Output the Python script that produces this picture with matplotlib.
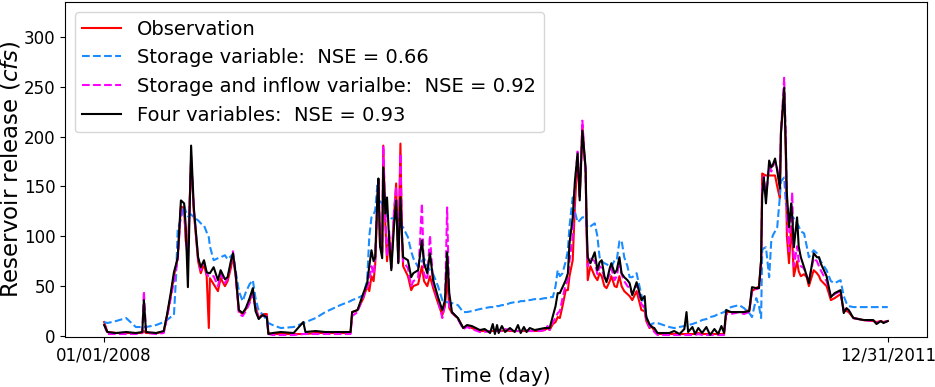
import matplotlib
matplotlib.use('Agg')
import matplotlib.pyplot as plt

# Day index (0 = 01/01/2008, 1460 = 12/31/2011) (cfs)
days = [0, 6, 22, 41, 59, 71, 74, 78, 97, 111, 117, 124, 130, 134, 137, 143, 149, 152, 156, 162,
        167, 175, 180, 186, 191, 195, 197, 204, 212, 217, 225, 230, 236, 240, 245, 251, 258, 264, 271, 277,
        282, 288, 295, 303, 306, 314, 329, 353, 371, 375, 394, 412, 440, 459, 462, 472, 483, 490, 494, 498,
        502, 505, 509, 511, 514, 518, 520, 524, 527, 531, 535, 540, 544, 548, 552, 555, 557, 566, 572, 576,
        585, 592, 596, 602, 607, 613, 622, 630, 635, 639, 643, 648, 659, 669, 676, 685, 700, 709, 719, 724,
        728, 732, 735, 741, 747, 756, 765, 771, 776, 782, 787, 793, 802, 812, 821, 826, 830, 836, 841, 845,
        849, 854, 860, 864, 867, 873, 877, 882, 886, 891, 897, 899, 901, 906, 914, 919, 923, 927, 932, 936,
        942, 945, 951, 955, 960, 964, 969, 975, 979, 984, 992, 1001, 1007, 1010, 1016, 1020, 1025, 1031, 1053, 1062,
        1072, 1081, 1085, 1088, 1096, 1101, 1107, 1114, 1122, 1129, 1137, 1144, 1150, 1155, 1159, 1168, 1183, 1192, 1202, 1207,
        1215, 1220, 1224, 1226, 1229, 1233, 1239, 1243, 1246, 1250, 1254, 1259, 1261, 1267, 1270, 1272, 1276, 1280, 1282, 1285,
        1291, 1294, 1298, 1304, 1309, 1313, 1322, 1328, 1332, 1335, 1346, 1354, 1361, 1372, 1378, 1383, 1387, 1396, 1415, 1433,
        1439, 1447, 1452, 1460]

observation = [14, 4, 3, 3, 3, 3, 5, 3, 3, 4, 20, 40, 60, 70, 78, 130, 128, 95, 86, 176,
               125, 75, 63, 72, 60, 8, 58, 52, 45, 58, 50, 55, 68, 80, 60, 25, 22, 27, 35, 45,
               30, 18, 22, 22, 3, 2, 2, 2, 2, 2, 3, 3, 3, 3, 24, 26, 38, 50, 45, 60,
               55, 72, 130, 150, 90, 85, 191, 110, 75, 100, 70, 120, 153, 75, 193, 95, 70, 60, 46, 50,
               52, 70, 55, 50, 60, 48, 33, 21, 30, 60, 28, 23, 18, 8, 10, 8, 5, 5, 5, 5,
               5, 5, 5, 5, 6, 5, 5, 5, 5, 5, 5, 5, 5, 5, 6, 8, 6, 12, 14, 19,
               18, 30, 46, 46, 60, 76, 130, 180, 140, 211, 165, 100, 56, 70, 60, 56, 63, 60, 50, 48,
               55, 60, 50, 49, 60, 50, 45, 42, 40, 36, 45, 26, 25, 15, 8, 10, 5, 2, 2, 2,
               2, 2, 2, 2, 2, 2, 3, 2, 2, 2, 2, 2, 2, 2, 24, 24, 24, 24, 26, 45,
               48, 50, 76, 163, 162, 161, 161, 161, 161, 161, 150, 138, 206, 246, 180, 100, 73, 110, 95, 60,
               75, 65, 60, 62, 59, 50, 66, 63, 60, 56, 50, 36, 38, 42, 26, 25, 24, 18, 16, 15,
               14, 15, 14, 15]

storage = [14, 13, 15, 18, 9, 9, 9, 9, 11, 14, 16, 19, 21, 60, 106, 118, 131, 125, 120, 122,
           119, 116, 113, 111, 104, 99, 90, 76, 78, 79, 81, 77, 80, 82, 65, 45, 35, 44, 52, 56,
           38, 25, 22, 16, 13, 11, 8, 9, 13, 14, 18, 24, 31, 35, 36, 38, 41, 56, 100, 119,
           122, 126, 151, 140, 135, 133, 130, 125, 120, 120, 118, 118, 118, 117, 115, 110, 109, 99, 85, 78,
           69, 75, 78, 70, 66, 62, 50, 36, 34, 34, 33, 33, 31, 24, 24, 25, 27, 28, 29, 29,
           29, 30, 30, 31, 31, 33, 34, 34, 35, 35, 36, 36, 37, 37, 38, 38, 39, 39, 50, 66,
           60, 63, 75, 86, 110, 139, 125, 114, 116, 119, 119, 112, 109, 110, 113, 100, 79, 75, 73, 72,
           70, 69, 76, 76, 95, 96, 79, 70, 59, 59, 63, 41, 29, 20, 9, 12, 13, 13, 9, 8,
           9, 10, 11, 11, 12, 13, 14, 16, 17, 19, 20, 22, 23, 24, 26, 29, 31, 28, 23, 19,
           38, 30, 18, 86, 88, 89, 59, 96, 101, 105, 109, 140, 155, 159, 133, 130, 125, 123, 120, 118,
           113, 110, 105, 103, 90, 79, 86, 83, 78, 75, 66, 55, 53, 56, 40, 33, 30, 29, 29, 29,
           29, 29, 29, 29]

storage_inflow = [12, 2, 2, 2, 2, 3, 45, 3, 2, 3, 18, 38, 55, 68, 75, 128, 126, 100, 75, 180,
                  127, 78, 66, 74, 62, 60, 60, 60, 50, 62, 53, 58, 72, 85, 62, 22, 20, 25, 33, 42,
                  28, 18, 20, 20, 2, 1, 1, 1, 2, 2, 2, 2, 2, 2, 20, 24, 40, 48, 55, 70,
                  62, 78, 135, 155, 95, 82, 191, 118, 80, 105, 68, 125, 150, 72, 183, 100, 75, 68, 50, 55,
                  58, 133, 62, 56, 101, 52, 36, 18, 32, 129, 30, 24, 17, 7, 9, 7, 4, 4, 5, 5,
                  6, 5, 6, 5, 7, 6, 5, 5, 5, 5, 6, 5, 5, 5, 6, 10, 6, 14, 18, 23,
                  25, 38, 52, 55, 75, 100, 150, 185, 140, 216, 160, 105, 70, 78, 75, 62, 70, 68, 58, 55,
                  62, 68, 56, 60, 75, 62, 55, 50, 48, 42, 52, 32, 28, 16, 9, 9, 4, 1, 1, 1,
                  1, 1, 1, 1, 1, 1, 2, 1, 1, 1, 1, 1, 1, 1, 22, 22, 24, 22, 24, 46,
                  47, 48, 70, 150, 160, 140, 170, 165, 170, 175, 168, 150, 205, 259, 200, 120, 85, 125, 144, 70,
                  90, 75, 70, 68, 60, 55, 78, 75, 70, 66, 55, 39, 42, 45, 24, 27, 26, 18, 16, 15,
                  13, 15, 14, 15]

four_variables = [11, 4, 3, 4, 3, 4, 36, 4, 3, 5, 21, 43, 64, 72, 79, 136, 133, 110, 49, 191,
                  129, 79, 69, 76, 64, 63, 63, 69, 56, 66, 57, 59, 75, 83, 63, 26, 23, 28, 38, 48,
                  25, 17, 21, 19, 2, 3, 4, 3, 14, 4, 5, 4, 4, 4, 24, 26, 43, 53, 70, 86,
                  75, 79, 140, 158, 90, 78, 169, 123, 139, 96, 66, 110, 136, 73, 139, 100, 79, 76, 59, 63,
                  66, 96, 73, 63, 83, 56, 39, 26, 36, 84, 43, 24, 18, 8, 11, 10, 6, 7, 3, 12,
                  2, 11, 3, 10, 4, 8, 4, 11, 3, 9, 4, 8, 6, 7, 8, 8, 8, 20, 30, 43,
                  43, 49, 56, 63, 93, 119, 155, 183, 136, 206, 169, 110, 79, 73, 84, 66, 74, 76, 60, 54,
                  68, 73, 63, 66, 79, 63, 59, 56, 53, 41, 54, 36, 40, 19, 12, 9, 8, 3, 3, 5,
                  2, 7, 24, 4, 9, 2, 8, 3, 9, 1, 7, 2, 10, 3, 26, 24, 24, 24, 25, 49,
                  48, 48, 76, 140, 159, 133, 176, 169, 172, 178, 166, 148, 203, 249, 190, 143, 109, 133, 120, 89,
                  119, 90, 79, 69, 60, 53, 83, 79, 79, 73, 60, 39, 43, 46, 23, 28, 26, 18, 16, 16,
                  12, 15, 13, 15]

tick_pos = [0, 1460]
tick_labels = ['01/01/2008', '12/31/2011']

fig = plt.figure(figsize=(9.35, 3.87), dpi=100)
ax = fig.add_axes([0.0695, 0.1292, 0.9219, 0.8656])

ax.plot(days, observation, color='red', lw=1.5, label='Observation')
ax.plot(days, storage, color='#1a8cff', lw=1.5, ls='--', label='Storage variable:  NSE = 0.66')
ax.plot(days, storage_inflow, color='magenta', lw=1.5, ls='--', label='Storage and inflow varialbe:  NSE = 0.92')
ax.plot(days, four_variables, color='black', lw=1.5, label='Four variables:  NSE = 0.93')

ax.set_ylim(-1, 335)
ax.set_yticks([0, 50, 100, 150, 200, 250, 300])
ax.set_xticks(tick_pos)
ax.set_xticklabels(tick_labels)
ax.tick_params(labelsize=12)
ax.set_xlabel('Time (day)', fontsize=14.5, labelpad=2)
ax.set_ylabel('Reservoir release ($cfs$)', fontsize=16.5, labelpad=1)
ax.legend(loc='upper left', fontsize=14)

plt.savefig('out.png', dpi=100)
plt.close()
